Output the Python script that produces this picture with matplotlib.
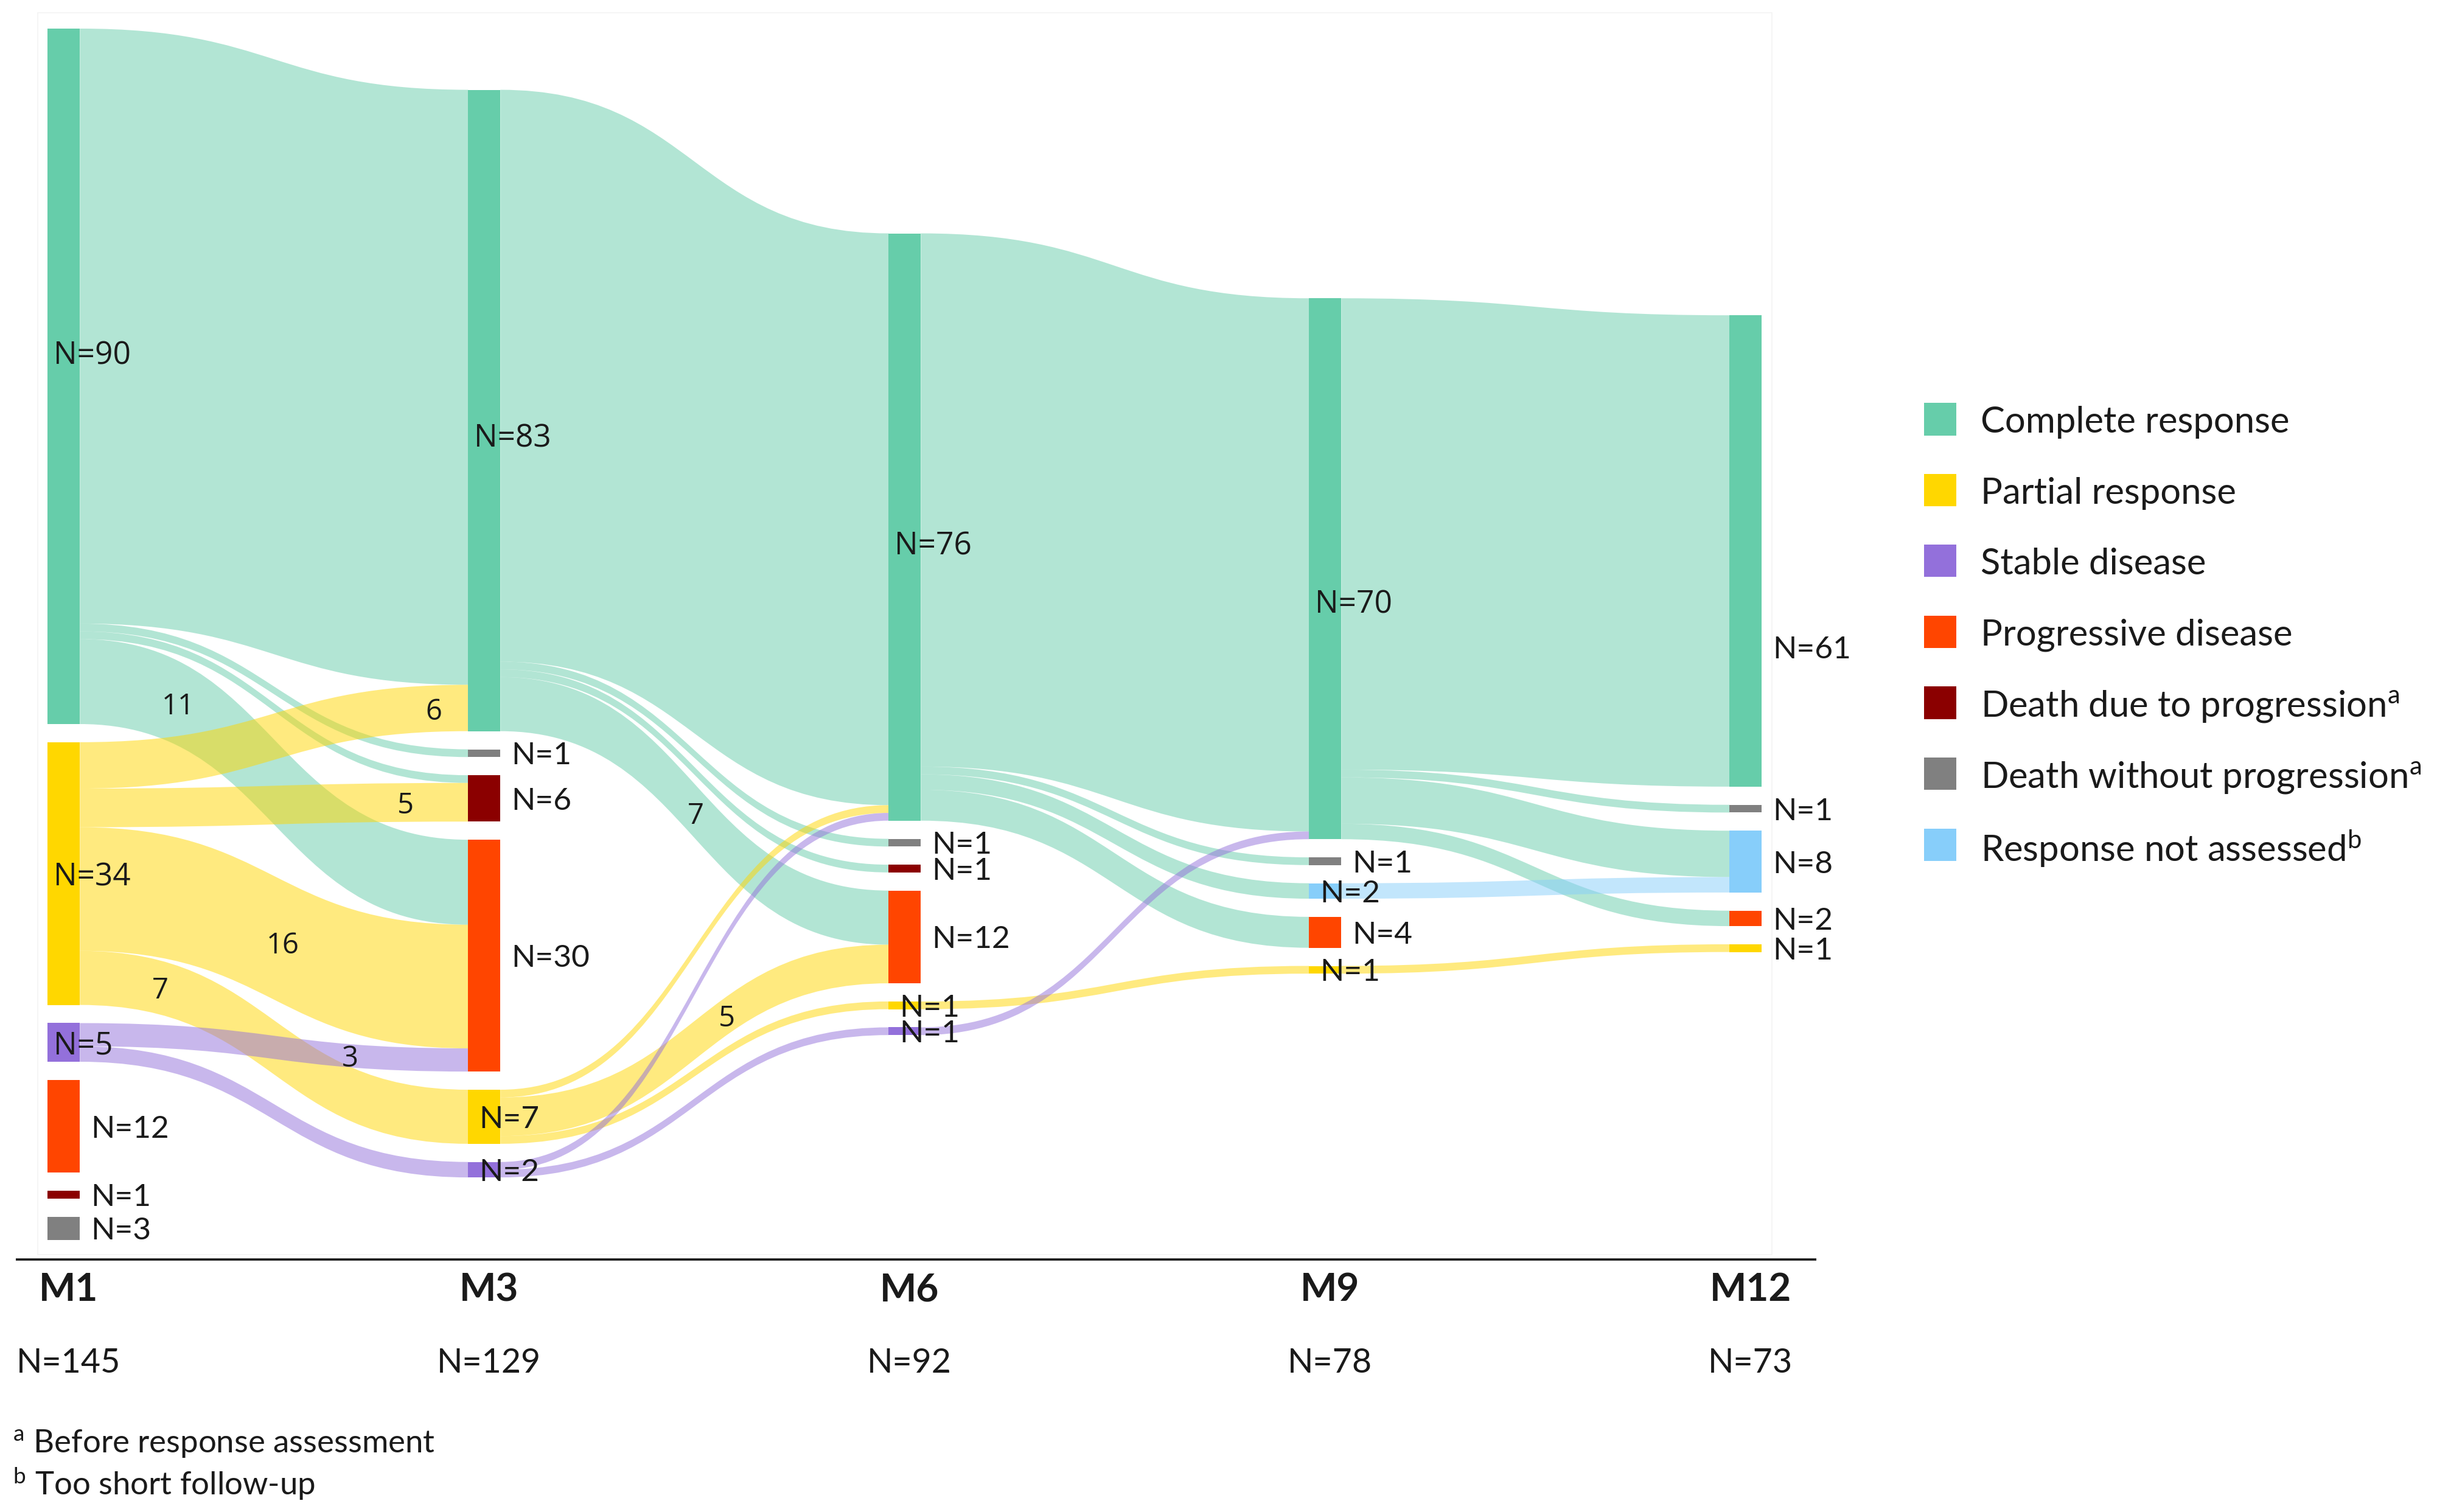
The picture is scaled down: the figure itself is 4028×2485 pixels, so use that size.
import numpy as np
import matplotlib
matplotlib.use('Agg')
import matplotlib.pyplot as plt
from matplotlib.path import Path
from matplotlib.patches import PathPatch, Rectangle

# ------------------------------------------------------------------ data
timepoints = ['M1', 'M3', 'M6', 'M9', 'M12']
timepoint_totals = [145, 129, 92, 78, 73]

legend_states = ['CR', 'PR', 'SD', 'PD', 'DP', 'DwP', 'NA']
legend_labels = ['Complete response', 'Partial response', 'Stable disease',
                 'Progressive disease', 'Death due to progression$^{a}$',
                 'Death without progression$^{a}$', 'Response not assessed$^{b}$']

# nodes per time point (top to bottom)
m1_states = ['CR', 'PR', 'SD', 'PD', 'DP', 'DwP']
m1_counts = [90, 34, 5, 12, 1, 3]
m3_states = ['CR', 'DwP', 'DP', 'PD', 'PR', 'SD']
m3_counts = [83, 1, 6, 30, 7, 2]
m6_states = ['CR', 'DwP', 'DP', 'PD', 'PR', 'SD']
m6_counts = [76, 1, 1, 12, 1, 1]
m9_states = ['CR', 'DwP', 'NA', 'PD', 'PR']
m9_counts = [70, 1, 2, 4, 1]
m12_states = ['CR', 'DwP', 'NA', 'PD', 'PR']
m12_counts = [61, 1, 8, 2, 1]

# transitions: source state, target state, number of patients
m1_m3_src = ['CR', 'CR', 'CR', 'CR', 'PR', 'PR', 'PR', 'PR', 'SD', 'SD']
m1_m3_tgt = ['CR', 'DwP', 'DP', 'PD', 'CR', 'DP', 'PD', 'PR', 'PD', 'SD']
m1_m3_val = [77, 1, 1, 11, 6, 5, 16, 7, 3, 2]

m3_m6_src = ['CR', 'CR', 'CR', 'CR', 'PR', 'PR', 'PR', 'SD', 'SD']
m3_m6_tgt = ['CR', 'DwP', 'DP', 'PD', 'CR', 'PD', 'PR', 'CR', 'SD']
m3_m6_val = [74, 1, 1, 7, 1, 5, 1, 1, 1]

m6_m9_src = ['CR', 'CR', 'CR', 'CR', 'PR', 'SD']
m6_m9_tgt = ['CR', 'DwP', 'NA', 'PD', 'PR', 'CR']
m6_m9_val = [69, 1, 2, 4, 1, 1]

m9_m12_src = ['CR', 'CR', 'CR', 'CR', 'NA', 'PR']
m9_m12_tgt = ['CR', 'DwP', 'NA', 'PD', 'NA', 'PR']
m9_m12_val = [61, 1, 6, 2, 2, 1]

# flows whose value is printed on the band (transition index, source, target)
labeled_flows = [(0, 'CR', 'PD'), (0, 'PR', 'CR'), (0, 'PR', 'DP'), (0, 'PR', 'PD'),
                 (0, 'PR', 'PR'), (0, 'SD', 'PD'), (1, 'CR', 'PD'), (1, 'PR', 'PD')]

footnotes = ['$^{a}$ Before response assessment', '$^{b}$ Too short follow-up']

# ------------------------------------------------------------------ style / layout
node_colors = {'CR': '#66CDAA', 'PR': '#FFD700', 'SD': '#9370DB', 'PD': '#FF4500',
               'DP': '#8B0000', 'DwP': '#808080', 'NA': '#87CEFA'}
FLOW_ALPHA = 0.5
TEXT = '#1a1a1a'

W_PX, H_PX, DPI = 4028, 2485, 100
COL0_PX, COL_STEP_PX = 104.8, 691.0      # x of first column centre, spacing
Y0_PX, UNIT_PX = 47.0, 12.7              # y of top, pixels per patient
NODE_W = 53.0 / COL_STEP_PX
NODE_GAP = 2.35
column_top = [0.0, 7.92, 26.5, 34.9, 37.1]

inside_open = {(0, 'CR'), (0, 'PR'), (0, 'SD'), (1, 'CR'), (2, 'CR'), (3, 'CR')}
inside_lato = {(1, 'PR'), (1, 'SD'), (2, 'PR'), (2, 'SD'), (3, 'NA'), (3, 'PR')}
label_nudge = {(0, 'CR'): -3.1, (1, 'CR'): 3.2, (2, 'CR'): 2.0, (3, 'CR'): 4.2, (4, 'CR'): 12.4}
flow_label_frac = [0.2535, 0.911, 0.839, 0.523, 0.207, 0.696, 0.504, 0.584]

plt.rcParams['font.family'] = ['Lato', 'DejaVu Sans']
plt.rcParams['mathtext.fontset'] = 'custom'
plt.rcParams['mathtext.rm'] = 'Lato'
plt.rcParams['mathtext.it'] = 'Lato'
plt.rcParams['mathtext.bf'] = 'Lato:bold'
plt.rcParams['mathtext.default'] = 'regular'


def px_x(px):
    return (px - COL0_PX) / COL_STEP_PX


def px_y(px):
    return (px - Y0_PX) / UNIT_PX


fig = plt.figure(figsize=(W_PX / DPI, H_PX / DPI), dpi=DPI)
fig.patch.set_facecolor('white')
ax = fig.add_axes([0, 0, 1, 1])
ax.set_xlim(px_x(0), px_x(W_PX))
ax.set_ylim(px_y(H_PX), px_y(0))
ax.axis('off')

columns_states = [m1_states, m3_states, m6_states, m9_states, m12_states]
columns_counts = [m1_counts, m3_counts, m6_counts, m9_counts, m12_counts]
transitions = [(m1_m3_src, m1_m3_tgt, m1_m3_val), (m3_m6_src, m3_m6_tgt, m3_m6_val),
               (m6_m9_src, m6_m9_tgt, m6_m9_val), (m9_m12_src, m9_m12_tgt, m9_m12_val)]

# node positions
node_top = []
for c, (sts, cnts) in enumerate(zip(columns_states, columns_counts)):
    tops = {}
    y = column_top[c]
    for s, n in zip(sts, cnts):
        tops[s] = y
        y += n + NODE_GAP
    node_top.append(tops)

# flows
flow_geom = {}
for t, (src, tgt, val) in enumerate(transitions):
    sord = columns_states[t]
    tord = columns_states[t + 1]
    idx = list(range(len(val)))
    s_pos = {}
    for s in sord:
        y = node_top[t][s]
        for i in sorted([i for i in idx if src[i] == s], key=lambda i: tord.index(tgt[i])):
            s_pos[i] = (y, y + val[i])
            y += val[i]
    t_pos = {}
    for g in tord:
        y = node_top[t + 1][g]
        for i in sorted([i for i in idx if tgt[i] == g], key=lambda i: sord.index(src[i])):
            t_pos[i] = (y, y + val[i])
            y += val[i]
    x0 = t + NODE_W / 2
    x1 = t + 1 - NODE_W / 2
    xm = (x0 + x1) / 2
    for i in idx:
        s0, s1 = s_pos[i]
        g0, g1 = t_pos[i]
        verts = [(x0, s0), (xm, s0), (xm, g0), (x1, g0), (x1, g1),
                 (xm, g1), (xm, s1), (x0, s1), (x0, s0)]
        codes = [Path.MOVETO, Path.CURVE4, Path.CURVE4, Path.CURVE4, Path.LINETO,
                 Path.CURVE4, Path.CURVE4, Path.CURVE4, Path.CLOSEPOLY]
        ax.add_patch(PathPatch(Path(verts, codes), facecolor=node_colors[src[i]],
                               alpha=FLOW_ALPHA, lw=0, zorder=1))
        flow_geom[(t, src[i], tgt[i])] = (x0, x1, (s0 + s1) / 2, (g0 + g1) / 2, val[i])

# nodes and node labels
for c, (sts, cnts) in enumerate(zip(columns_states, columns_counts)):
    tops = [node_top[c][s] for s in sts]
    ax.bar([c] * len(sts), cnts, bottom=tops, width=NODE_W,
           color=[node_colors[s] for s in sts], lw=0, zorder=2)
    for s, n, top in zip(sts, cnts, tops):
        yc = top + n / 2 + label_nudge.get((c, s), 0.0)
        if (c, s) in inside_open:
            ax.text(c - NODE_W / 2 + px_x(COL0_PX + 10), yc, f'N={n}', fontsize=37,
                    family=['Open Sans', 'DejaVu Sans'], color=TEXT,
                    ha='left', va='center_baseline', zorder=4)
        elif (c, s) in inside_lato:
            ax.text(c - NODE_W / 2 + px_x(COL0_PX + 18), yc, f'N={n}', fontsize=37,
                    color=TEXT, ha='left', va='center_baseline', zorder=4)
        else:
            ax.text(c + NODE_W / 2 + px_x(COL0_PX + 18), yc, f'N={n}', fontsize=37,
                    color=TEXT, ha='left', va='center_baseline', zorder=4)

# flow value labels
tt = np.linspace(0, 1, 4001)
xf = 1.5 * tt - 1.5 * tt ** 2 + tt ** 3
for key, f in zip(labeled_flows, flow_label_frac):
    x0, x1, ys, yt, v = flow_geom[key]
    tpar = np.interp(f, xf, tt)
    yfrac = 3 * tpar ** 2 - 2 * tpar ** 3
    ax.text(x0 + f * (x1 - x0), ys + yfrac * (yt - ys), str(v), fontsize=34,
            family=['Open Sans', 'DejaVu Sans'], color=TEXT,
            ha='center', va='center_baseline', zorder=4)

# faint frame of the diagram area
ax.add_patch(Rectangle((px_x(62), px_y(21)), px_x(2912) - px_x(62), px_y(2062) - px_y(21),
                       fill=False, edgecolor='#f3f3f3', lw=1.2, zorder=0))

# baseline and time-point labels
ax.plot([px_x(26), px_x(2985)], [px_y(2070), px_y(2070)], color='#111111', lw=2.6,
        solid_capstyle='butt', zorder=3)
dx = px_x(COL0_PX + 8)
for c, (tp, tot) in enumerate(zip(timepoints, timepoint_totals)):
    ax.text(c + dx, px_y(2115), tp, fontsize=46, fontweight='bold', color=TEXT,
            ha='center', va='center_baseline')
    ax.text(c + dx, px_y(2235), f'N={tot}', fontsize=40, color=TEXT,
            ha='center', va='center_baseline')

# footnotes
for i, fn in enumerate(footnotes):
    fig.text(21 / W_PX, 1 - (2367 + 67 * i) / H_PX, fn, fontsize=38, color=TEXT,
             ha='left', va='center_baseline')

# legend
for i, (s, lab) in enumerate(zip(legend_states, legend_labels)):
    yc = 689 + 116.5 * i
    fig.patches.append(Rectangle((3162 / W_PX, 1 - (yc + 26.5) / H_PX), 53 / W_PX, 53 / H_PX,
                                 transform=fig.transFigure, facecolor=node_colors[s], lw=0))
    fig.text(3255 / W_PX, 1 - yc / H_PX, lab, fontsize=43, color=TEXT,
             ha='left', va='center_baseline')

fig.savefig('out.png', dpi=DPI, facecolor='white')
